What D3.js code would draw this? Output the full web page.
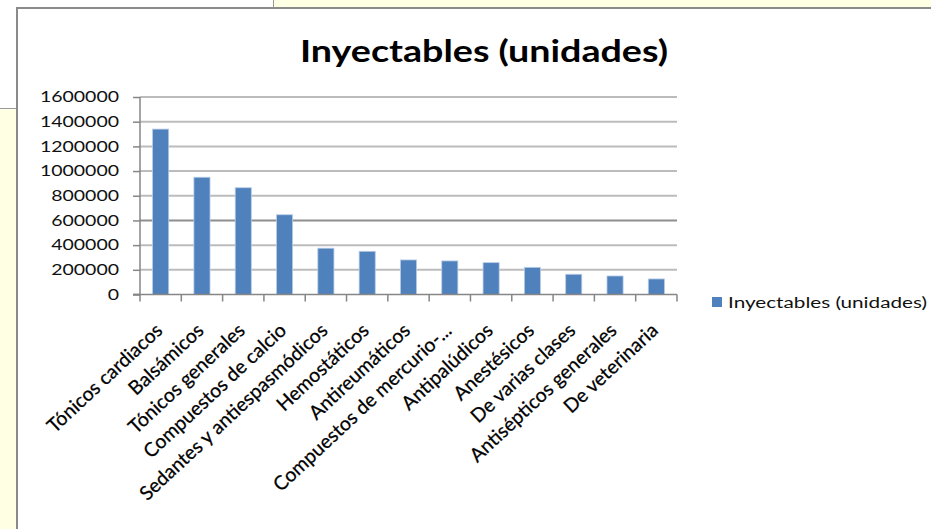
<!DOCTYPE html>
<html>
<head>
<meta charset="utf-8">
<script src="https://cdn.jsdelivr.net/npm/d3@7"></script>
<style>
  html, body { margin: 0; padding: 0; background: #ffffff; }
  svg { display: block; }
</style>
</head>
<body>
<svg id="chart" width="931" height="529"></svg>
<script>
// Inyectables por clase (unidades)
const categories = [
  "Tónicos cardiacos",
  "Balsámicos",
  "Tónicos generales",
  "Compuestos de calcio",
  "Sedantes y antiespasmódicos",
  "Hemostáticos",
  "Antireumáticos",
  "Compuestos de mercurio-...",
  "Antipalúdicos",
  "Anestésicos",
  "De varias clases",
  "Antisépticos generales",
  "De veterinaria"
];
const values = [
  1340000, 950000, 865000, 646000, 375000, 350000, 280000,
  272000, 258000, 220000, 164000, 150000, 126000
];
const seriesName = "Inyectables (unidades)";
const titleText = "Inyectables (unidades)";
const yTicks = [0, 200000, 400000, 600000, 800000, 1000000, 1200000, 1400000, 1600000];

const svg = d3.select("#chart");
const W = 931, H = 529;
const FONT = "Lato, 'Open Sans', sans-serif";

// Page backdrop around the chart frame
svg.append("rect").attr("x", 273).attr("y", 0).attr("width", W - 273).attr("height", 8)
  .attr("fill", "#ffffe3");
svg.append("line").attr("x1", 273.5).attr("x2", 273.5).attr("y1", 0).attr("y2", 8)
  .attr("stroke", "#9a9a9a").attr("stroke-width", 1);
svg.append("rect").attr("x", 0).attr("y", 109).attr("width", 17).attr("height", H - 109)
  .attr("fill", "#ffffe3");
svg.append("line").attr("x1", 0).attr("x2", 17).attr("y1", 108.5).attr("y2", 108.5)
  .attr("stroke", "#9a9a9a").attr("stroke-width", 1);

// Chart frame
svg.append("rect").attr("x", 17).attr("y", 8).attr("width", W - 17).attr("height", H - 8)
  .attr("fill", "#ffffff");
svg.append("path")
  .attr("d", `M17,${H} L17,8 L${W},8`)
  .attr("fill", "none").attr("stroke", "#8a8a8a").attr("stroke-width", 2);

// Scales
const x0 = 140, x1 = 677, yBase = 294.5, yTop = 97;
const x = d3.scaleBand().domain(categories).range([x0, x1])
  .paddingInner(0.61).paddingOuter(0.305);
const y = d3.scaleLinear().domain([0, 1600000]).range([yBase, yTop]);

// Gridlines
svg.append("g").selectAll("line").data(yTicks.filter(d => d > 0)).join("line")
  .attr("x1", x0).attr("x2", x1)
  .attr("y1", d => y(d)).attr("y2", d => y(d))
  .attr("stroke", d => d === 600000 ? "#8e8e8e" : "#bcbcbc")
  .attr("stroke-width", 2);

// Bars
svg.append("g").selectAll("rect").data(values).join("rect")
  .attr("x", (d, i) => x(categories[i]))
  .attr("width", x.bandwidth())
  .attr("y", d => y(d))
  .attr("height", d => y(0) - y(d))
  .attr("fill", "#4f81bd")
  .attr("stroke", "#b9cde5").attr("stroke-width", 0.8);

// Y axis
const yAxis = d3.axisLeft(y).tickValues(yTicks).tickSize(7).tickPadding(14)
  .tickFormat(d3.format("d"));
const gy = svg.append("g").attr("transform", `translate(${x0},0)`).call(yAxis);
gy.select(".domain").attr("stroke", "#868686").attr("stroke-width", 1.5)
  .attr("d", `M-7,${yBase}H0V${yTop}`);
gy.selectAll(".tick line").attr("stroke", "#868686").attr("stroke-width", 1.5);
gy.selectAll(".tick text")
  .attr("font-family", FONT).attr("font-size", 15).attr("fill", "#111111")
  .attr("textLength", d => String(d).length * 11.3)
  .attr("lengthAdjust", "spacingAndGlyphs");

// X axis baseline and category boundary ticks
svg.append("line").attr("x1", x0 - 7).attr("x2", x1).attr("y1", yBase).attr("y2", yBase)
  .attr("stroke", "#868686").attr("stroke-width", 1.5);
const step = x.step();
svg.append("g").selectAll("line").data(d3.range(categories.length + 1)).join("line")
  .attr("x1", i => x0 + i * step).attr("x2", i => x0 + i * step)
  .attr("y1", yBase).attr("y2", yBase + 7)
  .attr("stroke", "#868686").attr("stroke-width", 1.5);

// Rotated category labels
svg.append("g").selectAll("text").data(categories).join("text")
  .attr("transform", d => `translate(${x(d) + x.bandwidth() / 2 + 3},332) rotate(-43)`)
  .attr("text-anchor", "end")
  .attr("font-family", FONT).attr("font-size", 19.5).attr("fill", "#000000")
  .attr("stroke", "#000000").attr("stroke-width", 0.25)
  .text(d => d);

// Title
svg.append("text").attr("x", 484).attr("y", 62).attr("text-anchor", "middle")
  .attr("font-family", FONT).attr("font-weight", "bold").attr("font-size", 31)
  .attr("fill", "#000000")
  .attr("textLength", 368).attr("lengthAdjust", "spacingAndGlyphs")
  .text(titleText);

// Legend
const lg = svg.append("g").attr("transform", "translate(712,297)");
lg.append("rect").attr("width", 10).attr("height", 10).attr("fill", "#4f81bd");
lg.append("text").attr("x", 16).attr("y", 10.5)
  .attr("font-family", FONT).attr("font-size", 15.5).attr("fill", "#111111")
  .attr("textLength", 199).attr("lengthAdjust", "spacingAndGlyphs")
  .text(seriesName);
</script>
</body>
</html>
